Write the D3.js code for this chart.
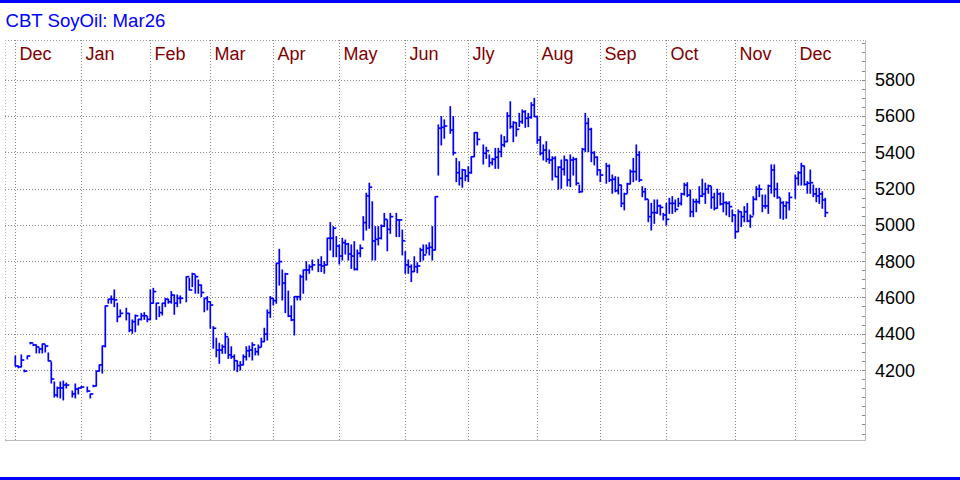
<!DOCTYPE html>
<html><head><meta charset="utf-8">
<script src="https://cdn.jsdelivr.net/npm/d3@7"></script>
<style>html,body{margin:0;padding:0;background:#fff;overflow:hidden}</style>
</head><body>
<svg id="c" width="960" height="480"></svg>
<script>
const title = "CBT SoyOil: Mar26";
const monthLabels = ["Dec","Jan","Feb","Mar","Apr","May","Jun","Jly","Aug","Sep","Oct","Nov","Dec"];
// weekday index (0 = first weekday of Dec) at which each month starts
const monthStarts = [0,22,45,65,86,108,130,151,174,195,217,240,260];
const yTicks = [4200,4400,4600,4800,5000,5200,5400,5600,5800];
const firstIndex = -1; // weekday index of the first value below; null = no trading
const highs = [4277,4222,4283,4200,4277,4352,4342,4338,4321,4343,4338,4294,4244,4134,4106,4134,4139,4128,null,4084,4123,4101,4110,null,4106,4068,4116,4194,4228,4332,4553,
4590,4608,4641,4568,4531,null,4540,4512,4476,4503,4479,4512,4516,4494,4641,4650,4568,4549,4568,4595,4590,4632,4613,4613,4608,null,
4714,4705,4733,4723,4696,4668,4595,4604,4576,4439,4375,4347,4338,4403,4375,4328,4283,4250,4246,4283,4328,4332,4350,4320,4338,4375,4430,4531,4604,4595,
4788,4865,4751,4733,4635,4553,4604,4604,4723,4751,4797,4779,4806,null,4810,4824,4797,4926,5012,4990,4935,4889,4926,4916,4898,4889,4907,4861,4889,5045,5174,5229,5127,4990,4990,4999,5063,5027,5063,null,
5063,5027,4971,4852,4806,4779,4824,4791,4871,4889,4889,4901,4990,5155,5550,5596,5578,null,5651,5596,5366,5348,5306,5302,5320,5375,5508,5508,null,
5440,5427,5385,5366,5421,5421,5495,5486,5618,5678,5568,5563,5614,5633,5629,5614,5673,5697,5596,5486,5440,5458,5412,5375,5375,5320,5357,5379,5357,5385,5372,5366,5219,5421,5614,5587,5532,5403,5375,5302,null,
5339,5330,5274,5265,5262,5219,5174,5229,5302,5366,5440,5403,5210,5201,5137,5118,5137,5137,5109,5063,5118,5146,5155,5137,5146,5174,5229,5232,5192,5141,5141,5210,5251,5229,5219,5210,5174,5196,5177,5174,5127,5127,5082,5054,
5082,5072,5100,5118,5054,5155,5210,5219,5164,5164,5219,5330,5330,5229,5146,5127,5127,5177,null,5274,5293,5339,5324,5238,5302,5219,5201,5201,5182,5146];
const lows = [4222,4212,4217,4190,4261,4344,4334,4294,4294,4294,4299,4250,4128,4051,4051,4046,4035,4101,null,4051,4046,4068,4102,null,4079,4046,4108,4112,4194,4183,4327,
4568,4568,4549,4466,4494,null,4476,4411,4402,4411,4448,4476,4479,4466,4476,4568,4479,4494,4503,4549,4568,4568,4507,4549,4568,null,
4576,4641,4659,4623,4623,4604,4521,4531,4430,4320,4273,4237,4292,4292,4264,4264,4200,4191,4200,4228,4255,4273,4255,4283,4283,4328,4356,4365,4490,4558,
4568,4668,4586,4516,4494,4472,4393,4586,4586,4623,4696,4733,4751,null,4742,4742,4733,4779,4861,4824,4824,4784,4806,4839,4806,4760,4751,4751,4824,4916,4971,4981,4806,4806,4889,4922,4990,4857,4953,null,
4935,4935,4834,4733,4733,4687,4742,4736,4797,4806,4843,4834,4806,4861,5274,5440,5477,null,5504,5385,5238,5219,5207,5243,5238,5284,5375,5440,null,
5335,5366,5320,5330,5311,5311,5375,5430,5458,5532,5458,5489,5541,5559,5537,5541,5587,5596,5449,5385,5357,5348,5339,5247,5265,5196,5201,5274,5214,5210,5274,5219,5177,5182,5403,5403,5348,5330,5274,5238,null,
5229,5238,5174,5182,5170,5100,5082,5174,5225,5238,5247,5238,5155,5137,5017,4971,5008,5063,5054,5027,4999,5063,5063,5072,5100,5109,5164,5155,5045,5045,5072,5118,5155,5118,5174,5091,5082,5091,5109,5072,5054,5045,5017,4926,
4962,4990,5017,5017,4986,5054,5137,5155,5072,5091,5063,5174,5155,5146,5036,5030,5036,5082,null,5146,5219,5219,5219,5174,5174,5155,5127,5118,5091,5045];
const closes = [4222,4217,4255,4194,4277,4349,4338,4327,4316,4343,4332,4250,4150,4062,4101,4101,4117,4117,null,4068,4095,4101,4106,null,4084,4068,4112,4194,4228,4332,4553,
4590,4590,4586,4494,4512,null,4512,4420,4466,4499,4479,4499,4499,4479,4568,4632,4568,4516,4568,4590,4576,4613,4568,4595,4595,null,
4714,4641,4729,4714,4668,4627,4595,4576,4558,4430,4310,4310,4328,4383,4283,4273,4251,4224,4228,4273,4306,4310,4338,4301,4325,4356,4398,4516,4595,4582,
4788,4797,4679,4729,4497,4476,4604,4604,4714,4751,4751,4769,4779,null,4779,4773,4779,4926,4926,4981,4883,4828,4901,4894,4839,4828,4755,4843,4871,5012,5159,5207,4911,4920,4926,4993,5030,4975,5045,null,
5027,5027,4912,4779,4769,4742,4769,4773,4861,4834,4871,4876,4861,5155,5532,5537,5544,null,5522,5397,5287,5256,5302,5269,5287,5375,5508,5471,null,
5394,5408,5342,5361,5372,5403,5440,5458,5600,5541,5563,5526,5568,5623,5587,5592,5660,5596,5467,5394,5412,5361,5357,5366,5265,5317,5306,5357,5247,5357,5361,5229,5182,5416,5559,5526,5397,5372,5302,5274,null,
5324,5247,5251,5188,5219,5118,5170,5225,5293,5293,5385,5247,5182,5141,5045,5067,5067,5104,5096,5054,5030,5118,5118,5085,5118,5170,5219,5164,5072,5127,5127,5159,5170,5196,5214,5151,5091,5170,5115,5122,5118,5100,5054,4962,
5072,5045,5072,5021,5045,5141,5196,5196,5104,5104,5214,5302,5196,5151,5122,5104,5122,5151,null,5256,5287,5324,5223,5229,5232,5170,5159,5170,5137,5067];

const svg = d3.select("#c");
const FONT = "'Liberation Sans', Arial, sans-serif";
const pLeft = 5, pRight = 865, pTop = 40, pBottom = 440;

const x = d3.scaleLinear().domain([firstIndex, firstIndex + 1]).range([15.3, 18.3]);
const y = d3.scaleLinear().domain([4200, 5800]).range([370, 79.6]);

svg.append("rect").attr("width", 960).attr("height", 480).attr("fill", "#fff");
svg.append("rect").attr("x", 0).attr("y", 0).attr("width", 960).attr("height", 3).attr("fill", "#0000ff");
svg.append("rect").attr("x", 0).attr("y", 477).attr("width", 960).attr("height", 3).attr("fill", "#0000ff");

svg.append("text").attr("x", 5.5).attr("y", 27).attr("font-family", FONT).attr("font-size", 18.6)
  .attr("fill", "#0000ff").text(title);

const grid = svg.append("g").attr("shape-rendering", "crispEdges");
grid.append("line").attr("x1", pLeft).attr("x2", pRight).attr("y1", pTop + 0.5).attr("y2", pTop + 0.5)
  .attr("stroke", "#999").attr("stroke-dasharray", "1,2");
grid.append("line").attr("x1", pLeft + 0.5).attr("x2", pLeft + 0.5).attr("y1", pTop).attr("y2", pBottom)
  .attr("stroke", "#bbb").attr("stroke-dasharray", "1,2");
grid.append("line").attr("x1", pRight + 0.5).attr("x2", pRight + 0.5).attr("y1", pTop).attr("y2", pBottom + 1)
  .attr("stroke", "#bbb").attr("stroke-width", 1.5);
grid.append("line").attr("x1", pLeft).attr("x2", pRight + 1).attr("y1", pBottom + 0.5).attr("y2", pBottom + 0.5)
  .attr("stroke", "#bbb").attr("stroke-width", 1.5);

grid.selectAll("line.h").data(yTicks).join("line").attr("class", "h")
  .attr("x1", pLeft).attr("x2", pRight)
  .attr("y1", d => Math.round(y(d)) + 0.5).attr("y2", d => Math.round(y(d)) + 0.5)
  .attr("stroke", "#888").attr("stroke-dasharray", "1,2");

const gx = m => Math.round(x(m) - 3.3) + 0.5;
grid.selectAll("line.v").data(monthStarts).join("line").attr("class", "v")
  .attr("x1", gx).attr("x2", gx).attr("y1", pTop).attr("y2", pBottom)
  .attr("stroke", "#888").attr("stroke-dasharray", "1,2");

const minor = d3.range(3850, 6001, 50);
grid.selectAll("line.m").data(minor).join("line").attr("class", "m")
  .attr("x1", pRight - 3).attr("x2", pRight)
  .attr("y1", d => Math.round(y(d)) + 0.5).attr("y2", d => Math.round(y(d)) + 0.5)
  .attr("stroke", "#888");

svg.selectAll("text.yl").data(yTicks).join("text").attr("class", "yl")
  .attr("x", 875).attr("y", d => y(d) + 6.5)
  .attr("font-family", FONT).attr("font-size", 18).attr("fill", "#000")
  .text(d => d3.format("d")(d));

svg.selectAll("text.ml").data(monthStarts).join("text").attr("class", "ml")
  .attr("x", d => x(d) - 3.3 + 4.5).attr("y", 59.5)
  .attr("font-family", FONT).attr("font-size", 18).attr("fill", "#800000")
  .text((d, i) => monthLabels[i]);

const bars = highs.map((h, i) => ({k: firstIndex + i, h, l: lows[i], c: closes[i]})).filter(d => d.h != null);
const g = svg.append("g").attr("stroke", "#0000ff").attr("stroke-width", 1.7);
g.selectAll("line.hl").data(bars).join("line").attr("class", "hl")
  .attr("x1", d => x(d.k)).attr("x2", d => x(d.k))
  .attr("y1", d => y(d.h) - 0.5).attr("y2", d => y(d.l) + 0.5);
g.selectAll("line.cl").data(bars).join("line").attr("class", "cl")
  .attr("x1", d => x(d.k)).attr("x2", d => x(d.k) + 3)
  .attr("y1", d => y(d.c)).attr("y2", d => y(d.c));
</script>
</body></html>
